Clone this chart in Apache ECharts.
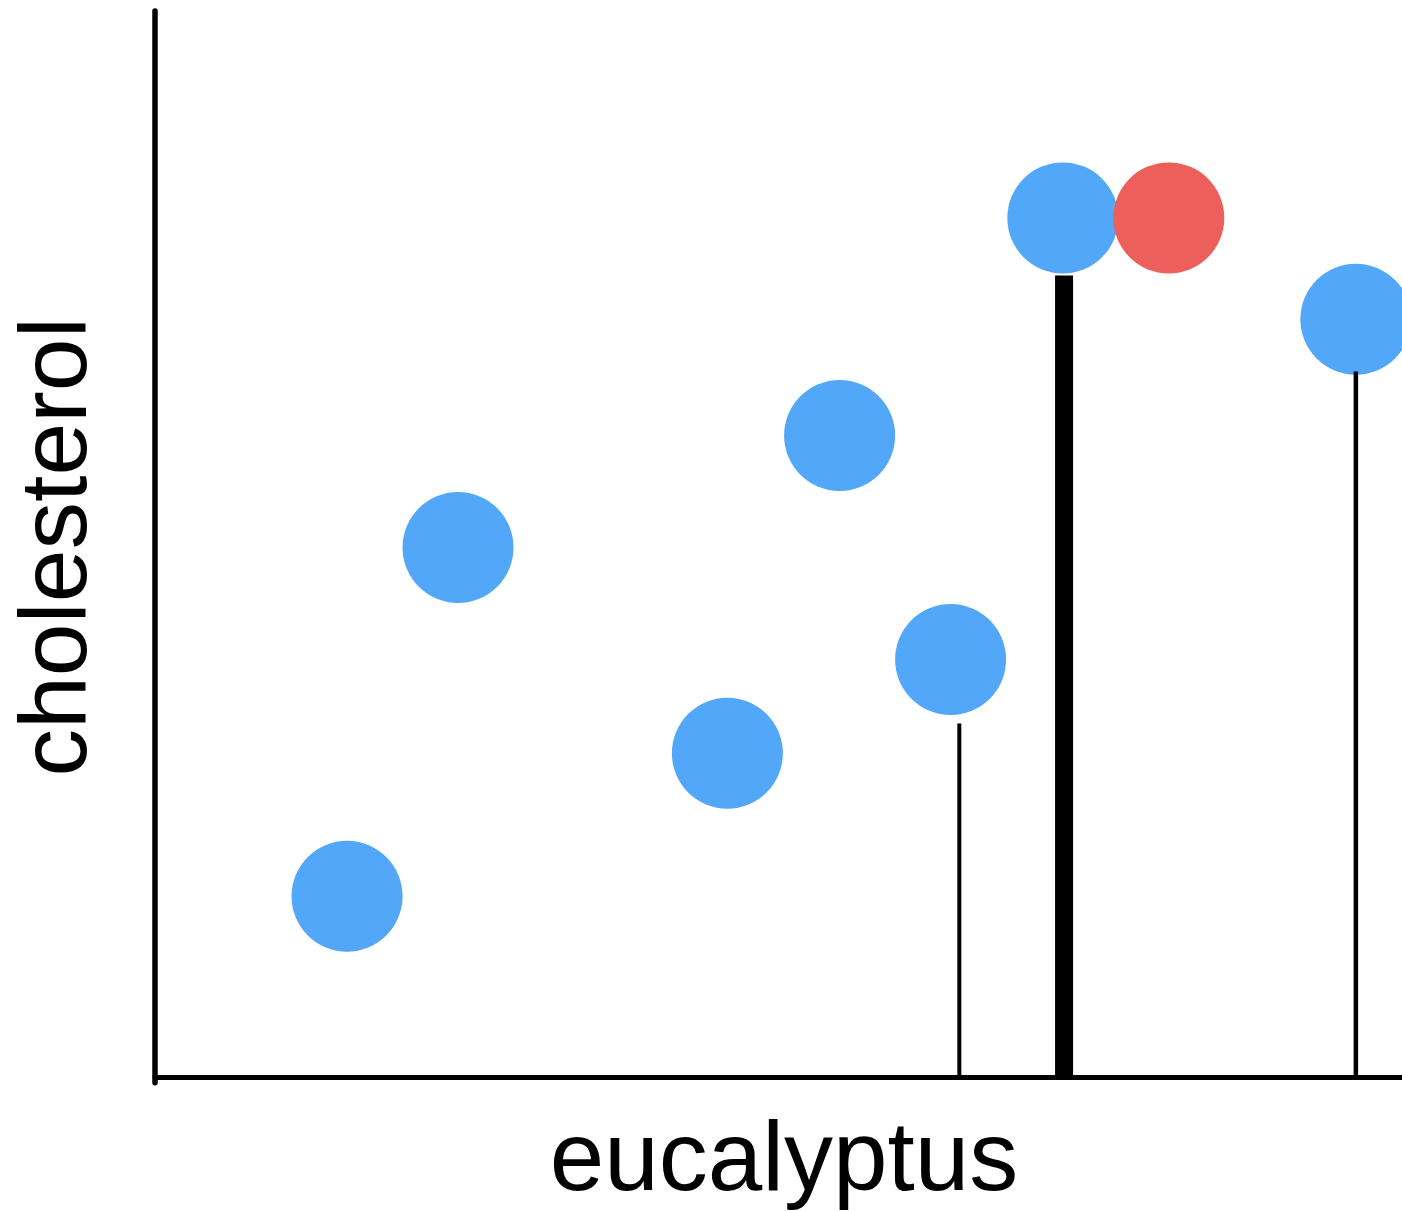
<!DOCTYPE html>
<html>
<head>
<meta charset="utf-8">
<title>cholesterol vs eucalyptus</title>
<script src="https://cdn.jsdelivr.net/npm/echarts@6/dist/echarts.min.js"></script>
<style>
    html, body { margin: 0; padding: 0; background: #fff; }
    #chart { width: 1402px; height: 1211px; }
</style>
</head>
<body>
<div id="chart"></div>
<script>
// data (axis units 0-100, no ticks shown)
var blueX = [15.4, 24.3, 45.9, 54.9, 63.8, 72.8, 96.3];
var blueY = [17.0, 49.7, 30.4, 60.2, 39.2, 80.6, 71.1];
var redX = [81.3];
var redY = [80.6];
// vertical stems drawn from the x axis up to just under a point
var stemX = [64.5, 72.9, 96.3];
var stemTop = [33.2, 75.2, 66.2];

var chart = echarts.init(document.getElementById('chart'));

function pairs(xs, ys) {
    return xs.map(function(x, i) { return [x, ys[i]]; });
}

// thin / thick / thin
var stemWidth = [4, 18, 4.5];

var series = [];
stemX.forEach(function(x, i) {
    series.push({
        type: 'line',
        silent: true,
        symbol: 'none',
        data: [[x, 0], [x, stemTop[i]]],
        lineStyle: { color: '#000', width: stemWidth[i], cap: 'butt' }
    });
});
series.push({
    name: 'blue',
    type: 'scatter',
    symbolSize: 111,
    data: pairs(blueX, blueY),
    itemStyle: { color: '#52a7f9', opacity: 1 }
});
series.push({
    name: 'red',
    type: 'scatter',
    symbolSize: 111,
    data: pairs(redX, redY),
    itemStyle: { color: '#ec5f5a', opacity: 1 }
});

var option = {
    animation: false,
    backgroundColor: '#fff',
    grid: {
        left: 155,
        right: 0,
        top: 11,
        bottom: 128.2,
        containLabel: false,
        outerBoundsMode: 'none'
    },
    xAxis: {
        type: 'value',
        min: 0,
        max: 100,
        name: 'eucalyptus',
        nameLocation: 'middle',
        nameGap: 31,
        nameTextStyle: {
            fontFamily: 'Liberation Sans',
            fontSize: 98,
            color: '#000',
            padding: [0, 0, 0, 11]
        },
        axisLine: { onZero: true, lineStyle: { color: '#000', width: 5 } },
        axisTick: { show: false },
        axisLabel: { show: false },
        splitLine: { show: false }
    },
    yAxis: {
        type: 'value',
        min: -0.5,
        max: 100,
        name: 'cholesterol',
        nameLocation: 'middle',
        nameGap: 48,
        nameTextStyle: {
            fontFamily: 'Liberation Sans',
            fontSize: 95,
            color: '#000'
        },
        axisLine: { lineStyle: { color: '#000', width: 5.5 } },
        axisTick: { show: false },
        axisLabel: { show: false },
        splitLine: { show: false }
    },
    series: series
};
chart.setOption(option);
</script>
</body>
</html>
